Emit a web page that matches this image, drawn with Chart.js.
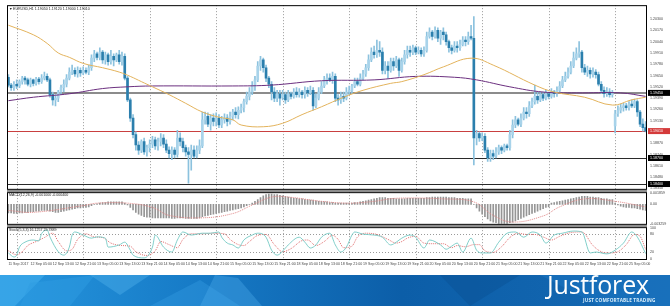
<!DOCTYPE html>
<html>
<head>
<meta charset="utf-8">
<script src="https://cdn.jsdelivr.net/npm/chart.js@4.4.1/dist/chart.umd.min.js"></script>
<style>
html, body { margin: 0; padding: 0; background: #fff; }
#wrap { position: relative; width: 670px; height: 306px; overflow: hidden; }
canvas { position: absolute; left: 0; }
.sep { position: absolute; left: 7px; width: 640px; height: 2px; background: #8e8e8e; z-index: 5; }
#banner { position: absolute; left: 0; top: 275px; }
#logo { position: absolute; left: 547px; top: 272px; font-family: "Open Sans", sans-serif; font-size: 25px; line-height: 1; color: #fff; letter-spacing: -0.2px; }
#tag { position: absolute; left: 583px; top: 298px; font-family: "Open Sans", sans-serif; font-weight: 700; font-size: 4.7px; line-height: 1; color: #d8eefb; letter-spacing: 0.15px; }
</style>
</head>
<body>
<div id="wrap">
  <canvas id="main" width="670" height="195" style="top:0"></canvas>
  <canvas id="macd" width="670" height="43" style="top:187px"></canvas>
  <canvas id="stoch" width="670" height="52" style="top:222px"></canvas>
  <div class="sep" style="top:190px"></div>
  <div class="sep" style="top:225px"></div>
  <svg id="banner" width="670" height="31" viewBox="0 0 670 31">
    <defs>
      <linearGradient id="bg" x1="0" x2="1" y1="0" y2="0">
        <stop offset="0" stop-color="#2696de"/>
        <stop offset="0.3" stop-color="#167ac6"/>
        <stop offset="0.6" stop-color="#0c5ea8"/>
        <stop offset="1" stop-color="#1569b3"/>
      </linearGradient>
    </defs>
    <rect width="670" height="31" fill="url(#bg)"/>
    <polygon points="0,0 45,0 15,31 0,31" fill="#45b0ee" opacity="0.55"/>
    <polygon points="30,8 95,0 70,31 20,31" fill="#2e9be2" opacity="0.5"/>
    <polygon points="90,0 150,0 120,20" fill="#5cbaf0" opacity="0.35"/>
    <polygon points="150,31 200,5 240,31" fill="#3aa0e6" opacity="0.35"/>
    <polygon points="215,0 238,3 262,31 200,31" fill="#4fb0ee" opacity="0.35"/>
    <polygon points="440,0 520,0 470,31" fill="#0a5296" opacity="0.5"/>
    <polygon points="540,0 670,0 670,31 600,31" fill="#1f7fcb" opacity="0.35"/>
  </svg>
  <div id="logo">Justforex</div>
  <div id="tag">JUST COMFORTABLE TRADING</div>
</div>
<script>
// EURUSD H1, 11 Sep 21:00 - 25 Sep 11:00
const sessionDays = [
  ['11 Sep', 21, 23], ['12 Sep', 0, 23], ['13 Sep', 0, 23], ['14 Sep', 0, 23], ['15 Sep', 0, 23],
  ['18 Sep', 0, 23], ['19 Sep', 0, 23], ['20 Sep', 0, 23], ['21 Sep', 0, 23], ['22 Sep', 0, 23], ['25 Sep', 0, 11]
];
const timeTicks = ['11 Sep 2017', '12 Sep 05:00', '12 Sep 13:00', '12 Sep 21:00', '13 Sep 05:00', '13 Sep 13:00',
  '13 Sep 21:00', '14 Sep 05:00', '14 Sep 13:00', '14 Sep 21:00', '15 Sep 05:00', '15 Sep 13:00', '15 Sep 21:00',
  '18 Sep 05:00', '18 Sep 13:00', '18 Sep 21:00', '19 Sep 05:00', '19 Sep 13:00', '19 Sep 21:00', '20 Sep 05:00',
  '20 Sep 13:00', '20 Sep 21:00', '21 Sep 05:00', '21 Sep 13:00', '21 Sep 21:00', '22 Sep 05:00', '22 Sep 13:00',
  '22 Sep 21:00', '25 Sep 05:00'];

const opens = [
  1.1963,1.1954,1.1951,1.1955,1.1953,1.1958,1.1962,1.1960,1.1955,1.1960,
  1.1956,1.1961,1.1958,1.1962,1.1964,1.1960,1.1943,1.1937,1.1939,1.1946,
  1.1951,1.1955,1.1962,1.1969,1.1971,1.1967,1.1971,1.1968,1.1971,1.1969,
  1.1974,1.1985,1.1990,1.1986,1.1992,1.1983,1.1989,1.1981,1.1987,1.1983,
  1.1989,1.1981,1.1987,1.1962,1.1937,1.1916,1.1897,1.1885,1.1879,1.1889,
  1.1877,1.1882,1.1886,1.1891,1.1884,1.1889,1.1893,1.1886,1.1879,1.1875,
  1.1879,1.1874,1.1893,1.1889,1.1882,1.1877,1.1874,1.1879,1.1872,1.1879,
  1.1884,1.1914,1.1918,1.1909,1.1916,1.1912,1.1916,1.1908,1.1914,1.1916,
  1.1912,1.1918,1.1923,1.1920,1.1925,1.1928,1.1935,1.1941,1.1946,1.1953,
  1.1960,1.1976,1.1983,1.1974,1.1962,1.1955,1.1946,1.1939,1.1944,1.1940,
  1.1943,1.1937,1.1944,1.1941,1.1946,1.1943,1.1946,1.1943,1.1948,1.1945,
  1.1948,1.1930,1.1939,1.1946,1.1953,1.1960,1.1962,1.1960,1.1964,1.1939,
  1.1937,1.1941,1.1939,1.1946,1.1948,1.1953,1.1958,1.1955,1.1962,1.1967,
  1.1974,1.1983,1.1992,1.1989,1.1994,1.1992,1.1971,1.1976,1.1971,1.1981,
  1.1976,1.1983,1.1971,1.1981,1.1989,1.1994,1.1992,1.1997,1.1992,1.1994,
  1.1990,1.1994,1.2010,1.2015,1.2010,1.2017,1.2008,1.2015,1.2012,1.2004,
  1.1997,1.1994,1.1999,1.1997,1.2001,1.2006,1.2004,1.2010,1.2008,1.1893,
  1.1898,1.1893,1.1895,1.1879,1.1870,1.1875,1.1872,1.1877,1.1882,1.1879,
  1.1884,1.1882,1.1897,1.1908,1.1914,1.1909,1.1916,1.1923,1.1921,1.1930,
  1.1935,1.1941,1.1937,1.1943,1.1939,1.1944,1.1941,1.1946,1.1944,1.1948,
  1.1953,1.1960,1.1964,1.1969,1.1976,1.1985,1.1990,1.1992,1.1974,1.1969,
  1.1971,1.1967,1.1969,1.1966,1.1955,1.1948,1.1944,1.1946,1.1943,1.1907,
  1.1921,1.1925,1.1928,1.1930,1.1928,1.1932,1.1930,1.1935,1.1923,1.1909,1.1905
];
const highs = [
  1.1966,1.1956,1.1958,1.1960,1.1960,1.1964,1.1964,1.1962,1.1962,1.1961,
  1.1963,1.1963,1.1966,1.1969,1.1967,1.1962,1.1946,1.1943,1.1948,1.1954,
  1.1960,1.1966,1.1974,1.1977,1.1974,1.1975,1.1974,1.1975,1.1974,1.1977,
  1.1989,1.1994,1.1992,1.1997,1.1994,1.1992,1.1991,1.1994,1.1990,1.1991,
  1.1994,1.1992,1.1990,1.1964,1.1939,1.1920,1.1900,1.1889,1.1891,1.1893,
  1.1885,1.1891,1.1895,1.1894,1.1893,1.1898,1.1897,1.1891,1.1883,1.1883,
  1.1882,1.1902,1.1899,1.1893,1.1885,1.1882,1.1885,1.1884,1.1884,1.1891,
  1.1923,1.1923,1.1922,1.1920,1.1921,1.1922,1.1920,1.1918,1.1921,1.1920,
  1.1923,1.1926,1.1928,1.1929,1.1932,1.1938,1.1946,1.1951,1.1958,1.1964,
  1.1981,1.1987,1.1985,1.1977,1.1964,1.1958,1.1951,1.1948,1.1948,1.1948,
  1.1946,1.1948,1.1946,1.1950,1.1951,1.1950,1.1948,1.1952,1.1951,1.1953,
  1.1951,1.1944,1.1951,1.1958,1.1964,1.1967,1.1967,1.1969,1.1967,1.1943,
  1.1946,1.1946,1.1951,1.1953,1.1955,1.1962,1.1962,1.1967,1.1971,1.1978,
  1.1989,1.1997,1.1999,1.2006,1.2004,1.1997,1.1981,1.1981,1.1985,1.1985,
  1.1987,1.1985,1.1985,1.1994,1.1999,1.1999,1.2000,1.1999,1.1998,1.1997,
  1.1998,1.2015,1.2020,1.2017,1.2021,1.2020,1.2017,1.2020,1.2015,1.2006,
  1.2000,1.2004,1.2004,1.2006,1.2010,1.2010,1.2015,1.2023,1.2033,1.1902,
  1.1900,1.1899,1.1898,1.1882,1.1879,1.1879,1.1882,1.1885,1.1884,1.1886,
  1.1886,1.1902,1.1914,1.1918,1.1916,1.1921,1.1928,1.1928,1.1935,1.1939,
  1.1954,1.1946,1.1946,1.1946,1.1948,1.1946,1.1950,1.1948,1.1952,1.1958,
  1.1964,1.1969,1.1974,1.1981,1.1992,1.1997,1.2004,1.1994,1.1978,1.1976,
  1.1974,1.1974,1.1972,1.1969,1.1958,1.1952,1.1951,1.1950,1.1948,1.1925,
  1.1930,1.1932,1.1933,1.1933,1.1935,1.1937,1.1938,1.1937,1.1925,1.1915,1.1912
];
const lows = [
  1.1952,1.1948,1.1948,1.1950,1.1951,1.1955,1.1955,1.1953,1.1952,1.1953,
  1.1954,1.1955,1.1956,1.1960,1.1958,1.1940,1.1931,1.1930,1.1935,1.1943,
  1.1946,1.1952,1.1960,1.1966,1.1964,1.1963,1.1964,1.1966,1.1967,1.1966,
  1.1971,1.1981,1.1983,1.1983,1.1979,1.1978,1.1977,1.1978,1.1976,1.1981,
  1.1978,1.1977,1.1960,1.1935,1.1912,1.1893,1.1879,1.1874,1.1876,1.1874,
  1.1872,1.1877,1.1882,1.1880,1.1879,1.1884,1.1882,1.1876,1.1870,1.1868,
  1.1870,1.1871,1.1884,1.1877,1.1872,1.1841,1.1856,1.1870,1.1870,1.1875,
  1.1882,1.1909,1.1906,1.1902,1.1907,1.1907,1.1905,1.1905,1.1910,1.1907,
  1.1909,1.1914,1.1916,1.1915,1.1922,1.1923,1.1932,1.1937,1.1943,1.1948,
  1.1958,1.1971,1.1969,1.1958,1.1951,1.1937,1.1935,1.1935,1.1931,1.1937,
  1.1933,1.1935,1.1938,1.1939,1.1940,1.1940,1.1939,1.1939,1.1941,1.1943,
  1.1925,1.1928,1.1937,1.1944,1.1951,1.1955,1.1958,1.1956,1.1935,1.1931,
  1.1933,1.1935,1.1937,1.1943,1.1944,1.1951,1.1953,1.1953,1.1960,1.1964,
  1.1971,1.1981,1.1985,1.1986,1.1987,1.1967,1.1967,1.1962,1.1969,1.1971,
  1.1974,1.1964,1.1969,1.1978,1.1985,1.1987,1.1989,1.1989,1.1990,1.1987,
  1.1987,1.1992,1.2008,1.2006,1.2008,1.2004,1.2001,1.2006,1.2000,1.1992,
  1.1990,1.1992,1.1992,1.1994,1.1999,1.1999,1.2001,1.2006,1.1862,1.1885,
  1.1889,1.1890,1.1876,1.1866,1.1866,1.1868,1.1870,1.1874,1.1875,1.1877,
  1.1879,1.1879,1.1893,1.1905,1.1907,1.1906,1.1914,1.1916,1.1918,1.1928,
  1.1932,1.1933,1.1935,1.1936,1.1937,1.1938,1.1939,1.1940,1.1941,1.1946,
  1.1951,1.1958,1.1962,1.1967,1.1974,1.1983,1.1986,1.1969,1.1966,1.1964,
  1.1962,1.1963,1.1962,1.1953,1.1944,1.1940,1.1941,1.1940,1.1940,1.1899,
  1.1918,1.1922,1.1924,1.1925,1.1925,1.1928,1.1928,1.1918,1.1906,1.1901,1.1900
];
const closes = [
  1.1954,1.1951,1.1955,1.1953,1.1958,1.1962,1.1960,1.1955,1.1960,1.1956,
  1.1961,1.1958,1.1962,1.1964,1.1960,1.1943,1.1937,1.1939,1.1946,1.1951,
  1.1955,1.1962,1.1969,1.1971,1.1967,1.1971,1.1968,1.1971,1.1969,1.1974,
  1.1985,1.1990,1.1986,1.1992,1.1983,1.1989,1.1981,1.1987,1.1983,1.1989,
  1.1981,1.1987,1.1962,1.1937,1.1916,1.1897,1.1885,1.1879,1.1889,1.1877,
  1.1882,1.1886,1.1891,1.1884,1.1889,1.1893,1.1886,1.1879,1.1875,1.1879,
  1.1874,1.1893,1.1889,1.1882,1.1877,1.1874,1.1879,1.1872,1.1879,1.1884,
  1.1914,1.1918,1.1909,1.1916,1.1912,1.1916,1.1908,1.1914,1.1916,1.1912,
  1.1918,1.1923,1.1920,1.1925,1.1928,1.1935,1.1941,1.1946,1.1953,1.1960,
  1.1976,1.1983,1.1974,1.1962,1.1955,1.1946,1.1939,1.1944,1.1939,1.1943,
  1.1937,1.1944,1.1941,1.1946,1.1943,1.1946,1.1943,1.1948,1.1945,1.1948,
  1.1930,1.1939,1.1946,1.1953,1.1960,1.1962,1.1960,1.1964,1.1939,1.1937,
  1.1941,1.1939,1.1946,1.1948,1.1953,1.1958,1.1955,1.1962,1.1967,1.1974,
  1.1983,1.1992,1.1989,1.1994,1.1992,1.1971,1.1976,1.1971,1.1981,1.1976,
  1.1983,1.1971,1.1981,1.1989,1.1994,1.1992,1.1997,1.1992,1.1994,1.1990,
  1.1994,1.2010,1.2015,1.2010,1.2017,1.2008,1.2015,1.2012,1.2004,1.1997,
  1.1994,1.1999,1.1997,1.2001,1.2006,1.2004,1.2010,1.2008,1.1893,1.1898,
  1.1893,1.1895,1.1879,1.1870,1.1875,1.1872,1.1877,1.1882,1.1879,1.1884,
  1.1882,1.1897,1.1908,1.1914,1.1909,1.1916,1.1923,1.1921,1.1930,1.1935,
  1.1941,1.1937,1.1943,1.1939,1.1944,1.1941,1.1946,1.1944,1.1948,1.1953,
  1.1960,1.1964,1.1969,1.1976,1.1985,1.1990,1.1992,1.1974,1.1969,1.1971,
  1.1967,1.1969,1.1966,1.1955,1.1948,1.1944,1.1946,1.1943,1.1945,1.1921,
  1.1925,1.1928,1.1930,1.1928,1.1932,1.1930,1.1935,1.1923,1.1909,1.1905,1.1901
];

// moving averages, [bar, value]
const maFast = [[0,1.2023],[9,1.2012],[14,1.2002],[18,1.1991],[22,1.1986],[27,1.1979],[34,1.1974],[40,1.1969],
  [44,1.1964],[48,1.1958],[52,1.1952],[58,1.1943],[64,1.1933],[70,1.1923],[76,1.1917],[81,1.1914],[84,1.1908],
  [92,1.1906],[99,1.1910],[106,1.1920],[113,1.1929],[121,1.1940],[128,1.1948],[138,1.1956],[142,1.1958],
  [150,1.1966],[157,1.1975],[167,1.1985],[175,1.1977],[190,1.1954],[197,1.1946],[208,1.1940],[218,1.1931],
  [225,1.1937],[230,1.1940]];
const maSlow = [[0,1.1936],[9,1.1940],[22,1.1944],[34,1.1950],[43,1.1952],[52,1.1953],[81,1.1953],[95,1.1954],
  [113,1.1959],[132,1.1960],[147,1.1964],[161,1.1963],[169,1.1960],[181,1.1952],[193,1.1946],[205,1.1945],
  [221,1.1945],[230,1.1941]];

const priceTicks = [1.2030,1.2017,1.2004,1.1991,1.1978,1.1965,1.1952,1.1939,1.1926,1.1913,1.1900,1.1887,1.1874,1.1861,1.1848,1.1835];
const levelLines = [1.1945, 1.1870, 1.1840];

const macdHist = [
  -0.0014,-0.0014,-0.0015,-0.0015,-0.0014,-0.0014,-0.0013,-0.0013,-0.0012,-0.0012,
  -0.0011,-0.0011,-0.0010,-0.0010,-0.0010,-0.0011,-0.0012,-0.0013,-0.0013,-0.0012,
  -0.0011,-0.0010,-0.0009,-0.0008,-0.0007,-0.0006,-0.0006,-0.0005,-0.0005,-0.0004,
  -0.0002,0.0000,0.0001,0.0002,0.0003,0.0003,0.0004,0.0004,0.0004,0.0004,0.0004,0.0004,
  0.0002,-0.0001,-0.0005,-0.0009,-0.0013,-0.0016,-0.0018,-0.0020,-0.0021,
  -0.0021,-0.0022,-0.0022,-0.0022,-0.0022,-0.0022,-0.0022,-0.0022,-0.0023,-0.0023,
  -0.0022,-0.0022,-0.0022,-0.0023,-0.0023,-0.0023,-0.0023,-0.0023,-0.0022,-0.0020,
  -0.0019,-0.0018,-0.0017,-0.0016,-0.0015,-0.0014,-0.0013,-0.0012,-0.0011,-0.0010,
  -0.0009,-0.0008,-0.0007,-0.0006,-0.0004,-0.0002,0.0000,0.0002,0.0005,0.0008,
  0.0011,0.0014,0.0016,0.0017,0.0017,0.0016,0.0016,0.0015,0.0014,0.0013,
  0.0012,0.0011,0.0010,0.0010,0.0009,0.0009,0.0008,0.0008,0.0007,0.0007,0.0006,0.0005,0.0005,0.0004,0.0004,
  0.0003,0.0003,0.0002,0.0002,0.0002,0.0002,0.0002,0.0002,0.0002,0.0003,0.0003,0.0004,
  0.0005,0.0006,0.0007,0.0008,0.0009,0.0010,0.0011,0.0011,0.0011,0.0010,0.0010,0.0010,0.0009,
  0.0009,0.0009,0.0009,0.0010,0.0010,0.0010,0.0010,0.0010,0.0010,0.0010,0.0011,0.0011,0.0012,0.0012,0.0012,
  0.0012,0.0012,0.0012,0.0011,0.0011,0.0011,0.0010,0.0010,0.0010,0.0009,0.0009,0.0009,
  0.0000,-0.0006,-0.0011,-0.0016,-0.0020,-0.0024,-0.0027,-0.0029,-0.0030,-0.0031,-0.0031,-0.0031,-0.0031,
  -0.0030,-0.0029,-0.0027,-0.0025,-0.0023,-0.0021,-0.0019,-0.0017,-0.0015,-0.0013,-0.0011,-0.0009,-0.0007,-0.0005,-0.0004,
  0.0002,0.0003,0.0004,0.0005,0.0006,0.0007,0.0008,0.0009,0.0010,0.0011,0.0012,0.0013,0.0013,0.0013,0.0012,0.0012,
  0.0011,0.0011,0.0010,0.0009,0.0009,0.0008,0.0008,
  0.0002,-0.0001,-0.0003,-0.0004,-0.0005,-0.0005,-0.0006,-0.0006,-0.0007,-0.0008,-0.0009,-0.0010
];
const macdSignal = [[0,-0.0010],[9,-0.0013],[27,-0.0002],[32,0.0002],[43,0.0002],[52,-0.0005],[58,-0.0018],
  [70,-0.0022],[81,-0.0015],[88,-0.0001],[95,0.0012],[101,0.0012],[113,0.0005],[123,0.0002],[132,0.0005],
  [140,0.0010],[157,0.0009],[168,0.0004],[175,-0.0018],[182,-0.0029],[193,-0.0019],[199,-0.0004],[208,0.0009],
  [219,0.0005],[230,-0.0004]];
const macdTicks = [0.001859, 0, -0.003259];

const stochMain = [[0,18],[2,5],[3,11],[4,37],[6,53],[9,60],[11,57],[12,81],[14,92],[15,70],[18,22],[20,11],
  [22,37],[23,76],[24,86],[27,76],[30,66],[32,70],[35,66],[36,37],[40,44],[42,53],[44,27],[45,11],[49,2],[52,37],
  [53,76],[56,37],[59,21],[61,60],[63,86],[66,76],[70,82],[73,82],[76,86],[77,69],[79,50],[81,44],[83,34],[85,60],
  [88,76],[90,82],[93,69],[95,27],[97,11],[100,34],[101,44],[105,69],[107,53],[109,34],[111,44],[113,69],[116,82],
  [118,44],[120,21],[122,37],[124,76],[125,86],[128,79],[132,76],[135,69],[138,44],[140,53],[142,66],[145,76],
  [147,69],[150,34],[152,60],[156,44],[158,30],[160,40],[162,50],[164,21],[167,66],[169,27],[171,18],[174,18],
  [177,53],[180,82],[183,86],[186,69],[189,86],[192,76],[194,50],[197,76],[200,82],[204,89],[207,86],[210,18],
  [212,21],[216,15],[219,27],[222,50],[225,86],[227,70],[230,16.1257]];
const stochSignal = [[0,25],[3,12],[5,22],[7,42],[10,55],[13,68],[16,82],[18,55],[21,25],[23,30],[25,62],[28,80],
  [31,70],[34,68],[37,50],[41,42],[44,40],[46,22],[50,10],[53,25],[55,55],[58,45],[61,35],[63,62],[66,80],[70,80],
  [74,82],[78,80],[80,62],[83,45],[85,42],[87,55],[90,75],[93,78],[96,45],[99,22],[102,32],[106,58],[108,60],
  [111,42],[114,55],[117,75],[119,62],[121,35],[124,40],[126,70],[129,82],[133,78],[137,62],[140,50],[142,55],
  [144,66],[147,72],[150,50],[153,48],[157,48],[160,35],[162,42],[165,38],[168,45],[170,45],[172,25],[175,20],
  [178,38],[181,68],[184,82],[187,78],[190,78],[193,70],[196,60],[199,72],[203,84],[207,86],[211,42],[214,22],
  [217,18],[220,22],[223,45],[226,78],[228,72],[230,29.7889]];
const stochTicks = [100, 80, 20, 0];
const stochLevels = [80, 20];

// bar labels
const bars = [];
sessionDays.forEach(([d, h0, h1]) => {
  for (let h = h0; h <= h1; h++) bars.push(d + ' ' + String(h).padStart(2, '0') + ':00');
});
const midnights = bars.map((b, i) => b.endsWith(' 00:00') ? i : -1).filter(i => i >= 0);
const pts = arr => arr.map(([i, v]) => ({ x: bars[i], y: v }));

const FONT = '"Liberation Sans", Arial, sans-serif';
Chart.defaults.font.family = FONT;
Chart.defaults.font.size = 3.6;
Chart.defaults.color = '#444';

const last = closes.length - 1;
const axisW = s => { s.width = 23; };

const panel = {
  id: 'panel',
  beforeDatasetsDraw(chart, args, opts) {
    const { ctx, chartArea: a } = chart;
    const x = chart.scales.x, y = chart.scales.y;
    ctx.save();
    ctx.strokeStyle = '#9a9a9a';
    ctx.lineWidth = 1;
    ctx.setLineDash([1, 2]);
    midnights.forEach(i => {
      const px = Math.round(x.getPixelForValue(i)) + 0.5;
      ctx.beginPath(); ctx.moveTo(px, a.top); ctx.lineTo(px, a.bottom); ctx.stroke();
    });
    (opts.dotted || []).forEach(v => {
      const py = Math.round(y.getPixelForValue(v)) + 0.5;
      ctx.beginPath(); ctx.moveTo(a.left, py); ctx.lineTo(a.right, py); ctx.stroke();
    });
    ctx.setLineDash([]);
    (opts.levels || []).forEach(l => {
      const py = Math.round(y.getPixelForValue(l.value)) + (l.width === 1 ? 0.5 : 0);
      ctx.strokeStyle = l.color; ctx.lineWidth = l.width;
      ctx.beginPath(); ctx.moveTo(a.left, py); ctx.lineTo(a.right, py); ctx.stroke();
    });
    ctx.restore();
  },
  afterDraw(chart, args, opts) {
    const { ctx, chartArea: a } = chart;
    const y = chart.scales.y;
    ctx.save();
    ctx.strokeStyle = '#000';
    ctx.lineWidth = 1;
    ctx.strokeRect(a.left + 0.5, a.top + 0.5, a.right - a.left - 1, a.bottom - a.top - 1);
    ctx.font = '3.6px ' + FONT;
    ctx.fillStyle = '#222';
    ctx.textBaseline = 'top';
    if (opts.mark) ctx.fillText('\u25BC', a.left + 2, a.top + 2.2);
    if (opts.title) ctx.fillText(opts.title, a.left + (opts.mark ? 6 : 2), a.top + (opts.mark ? 2 : 1));
    ctx.textBaseline = 'middle';
    (opts.levels || []).forEach(l => {
      if (!l.box) return;
      const py = y.getPixelForValue(l.value);
      ctx.fillStyle = l.box;
      ctx.fillRect(a.right + 1, py - 3, 22, 6);
      ctx.fillStyle = '#fff';
      ctx.fillText(l.value.toFixed(5), a.right + 3, py + 0.3);
    });
    ctx.restore();
  }
};

const hiddenX = { type: 'category', offset: true, display: false };
const noGrid = { display: false, drawTicks: false, tickLength: 0 };

// main price panel
new Chart(document.getElementById('main'), {
  type: 'bar',
  data: {
    labels: bars,
    datasets: [
      { type: 'line', label: 'MA fast', data: pts(maFast), borderColor: '#e3b35c', borderWidth: 1, pointRadius: 0, tension: 0.4, order: 0 },
      { type: 'line', label: 'MA slow', data: pts(maSlow), borderColor: '#6b2f7f', borderWidth: 1, pointRadius: 0, tension: 0.4, order: 0 },
      { label: 'body', data: opens.map((o, i) => [o, closes[i]]), grouped: false, barThickness: 2, minBarLength: 1,
        backgroundColor: closes.map((c, i) => c >= opens[i] ? '#a8d3ea' : '#2b7fad'), order: 1 },
      { label: 'wick', data: lows.map((l, i) => [l, highs[i]]), grouped: false, barThickness: 1,
        backgroundColor: '#8cc2de', order: 2 }
    ]
  },
  options: {
    responsive: false, animation: false, devicePixelRatio: 1,
    layout: { padding: { left: 7, top: 5, right: 0, bottom: 0 } },
    scales: {
      x: hiddenX,
      y: {
        position: 'right', min: 1.18333, max: 1.20461, afterFit: axisW,
        afterBuildTicks: s => { s.ticks = priceTicks.map(v => ({ value: v })); },
        grid: noGrid, border: { display: false },
        ticks: { padding: 3, callback: v => v.toFixed(5) }
      }
    },
    plugins: {
      legend: { display: false }, tooltip: { enabled: false },
      panel: {
        mark: true,
        title: 'EURUSD,H1 ' + [opens[last], highs[last], lows[last], closes[last]].map(v => v.toFixed(5)).join(' '),
        levels: [
          { value: levelLines[0], color: '#8c8c8c', width: 2, box: '#000' },
          { value: levelLines[1], color: '#2a2a2a', width: 1, box: '#000' },
          { value: levelLines[2], color: '#2a2a2a', width: 1, box: '#000' },
          { value: closes[last], color: '#c94040', width: 1, box: '#d43a3a' }
        ]
      }
    }
  },
  plugins: [panel]
});

// MACD panel
new Chart(document.getElementById('macd'), {
  type: 'bar',
  data: {
    labels: bars,
    datasets: [
      { type: 'line', label: 'Signal', data: pts(macdSignal), borderColor: '#e08888', borderWidth: 1, borderDash: [1, 1],
        pointRadius: 0, tension: 0.4, order: 0 },
      { label: 'MACD', data: macdHist, barThickness: 1, backgroundColor: '#959595', order: 1 }
    ]
  },
  options: {
    responsive: false, animation: false, devicePixelRatio: 1,
    layout: { padding: { left: 7, top: 0, right: 0, bottom: 0 } },
    scales: {
      x: hiddenX,
      y: {
        position: 'right', min: -0.00335, max: 0.00200, afterFit: axisW,
        afterBuildTicks: s => { s.ticks = macdTicks.map(v => ({ value: v })); },
        grid: noGrid, border: { display: false },
        ticks: { padding: 3, callback: v => v === 0 ? '0.00' : v.toFixed(6) }
      }
    },
    plugins: {
      legend: { display: false }, tooltip: { enabled: false },
      panel: { title: 'MACD(12,26,9) ' + macdHist[last].toFixed(6) + ' ' + macdSignal[macdSignal.length - 1][1].toFixed(6) }
    }
  },
  plugins: [panel]
});

// Stochastic panel with the time axis
new Chart(document.getElementById('stoch'), {
  type: 'line',
  data: {
    labels: bars,
    datasets: [
      { label: 'Main', data: pts(stochMain), borderColor: '#74c9c4', borderWidth: 0.9, pointRadius: 0, cubicInterpolationMode: 'monotone' },
      { label: 'Signal', data: pts(stochSignal), borderColor: '#e07070', borderWidth: 1, borderDash: [1, 1], pointRadius: 0, cubicInterpolationMode: 'monotone' }
    ]
  },
  options: {
    responsive: false, animation: false, devicePixelRatio: 1,
    layout: { padding: { left: 7, top: 0, right: 0, bottom: 0 } },
    scales: {
      x: {
        type: 'category', offset: true, afterFit: s => { s.height = 14; },
        grid: noGrid, border: { display: false },
        ticks: { autoSkip: false, maxRotation: 0, minRotation: 0, align: 'start', padding: 2,
          callback: (v, i) => i % 8 === 0 ? timeTicks[i / 8] : '' }
      },
      y: {
        position: 'right', min: -4.8, max: 101.6, afterFit: axisW,
        afterBuildTicks: s => { s.ticks = stochTicks.map(v => ({ value: v })); },
        grid: noGrid, border: { display: false },
        ticks: { padding: 3 }
      }
    },
    plugins: {
      legend: { display: false }, tooltip: { enabled: false },
      panel: {
        title: 'Stoch(5,3,3) ' + stochMain[stochMain.length - 1][1].toFixed(4) + ' ' + stochSignal[stochSignal.length - 1][1].toFixed(4),
        dotted: stochLevels
      }
    }
  },
  plugins: [panel]
});
</script>
</body>
</html>
